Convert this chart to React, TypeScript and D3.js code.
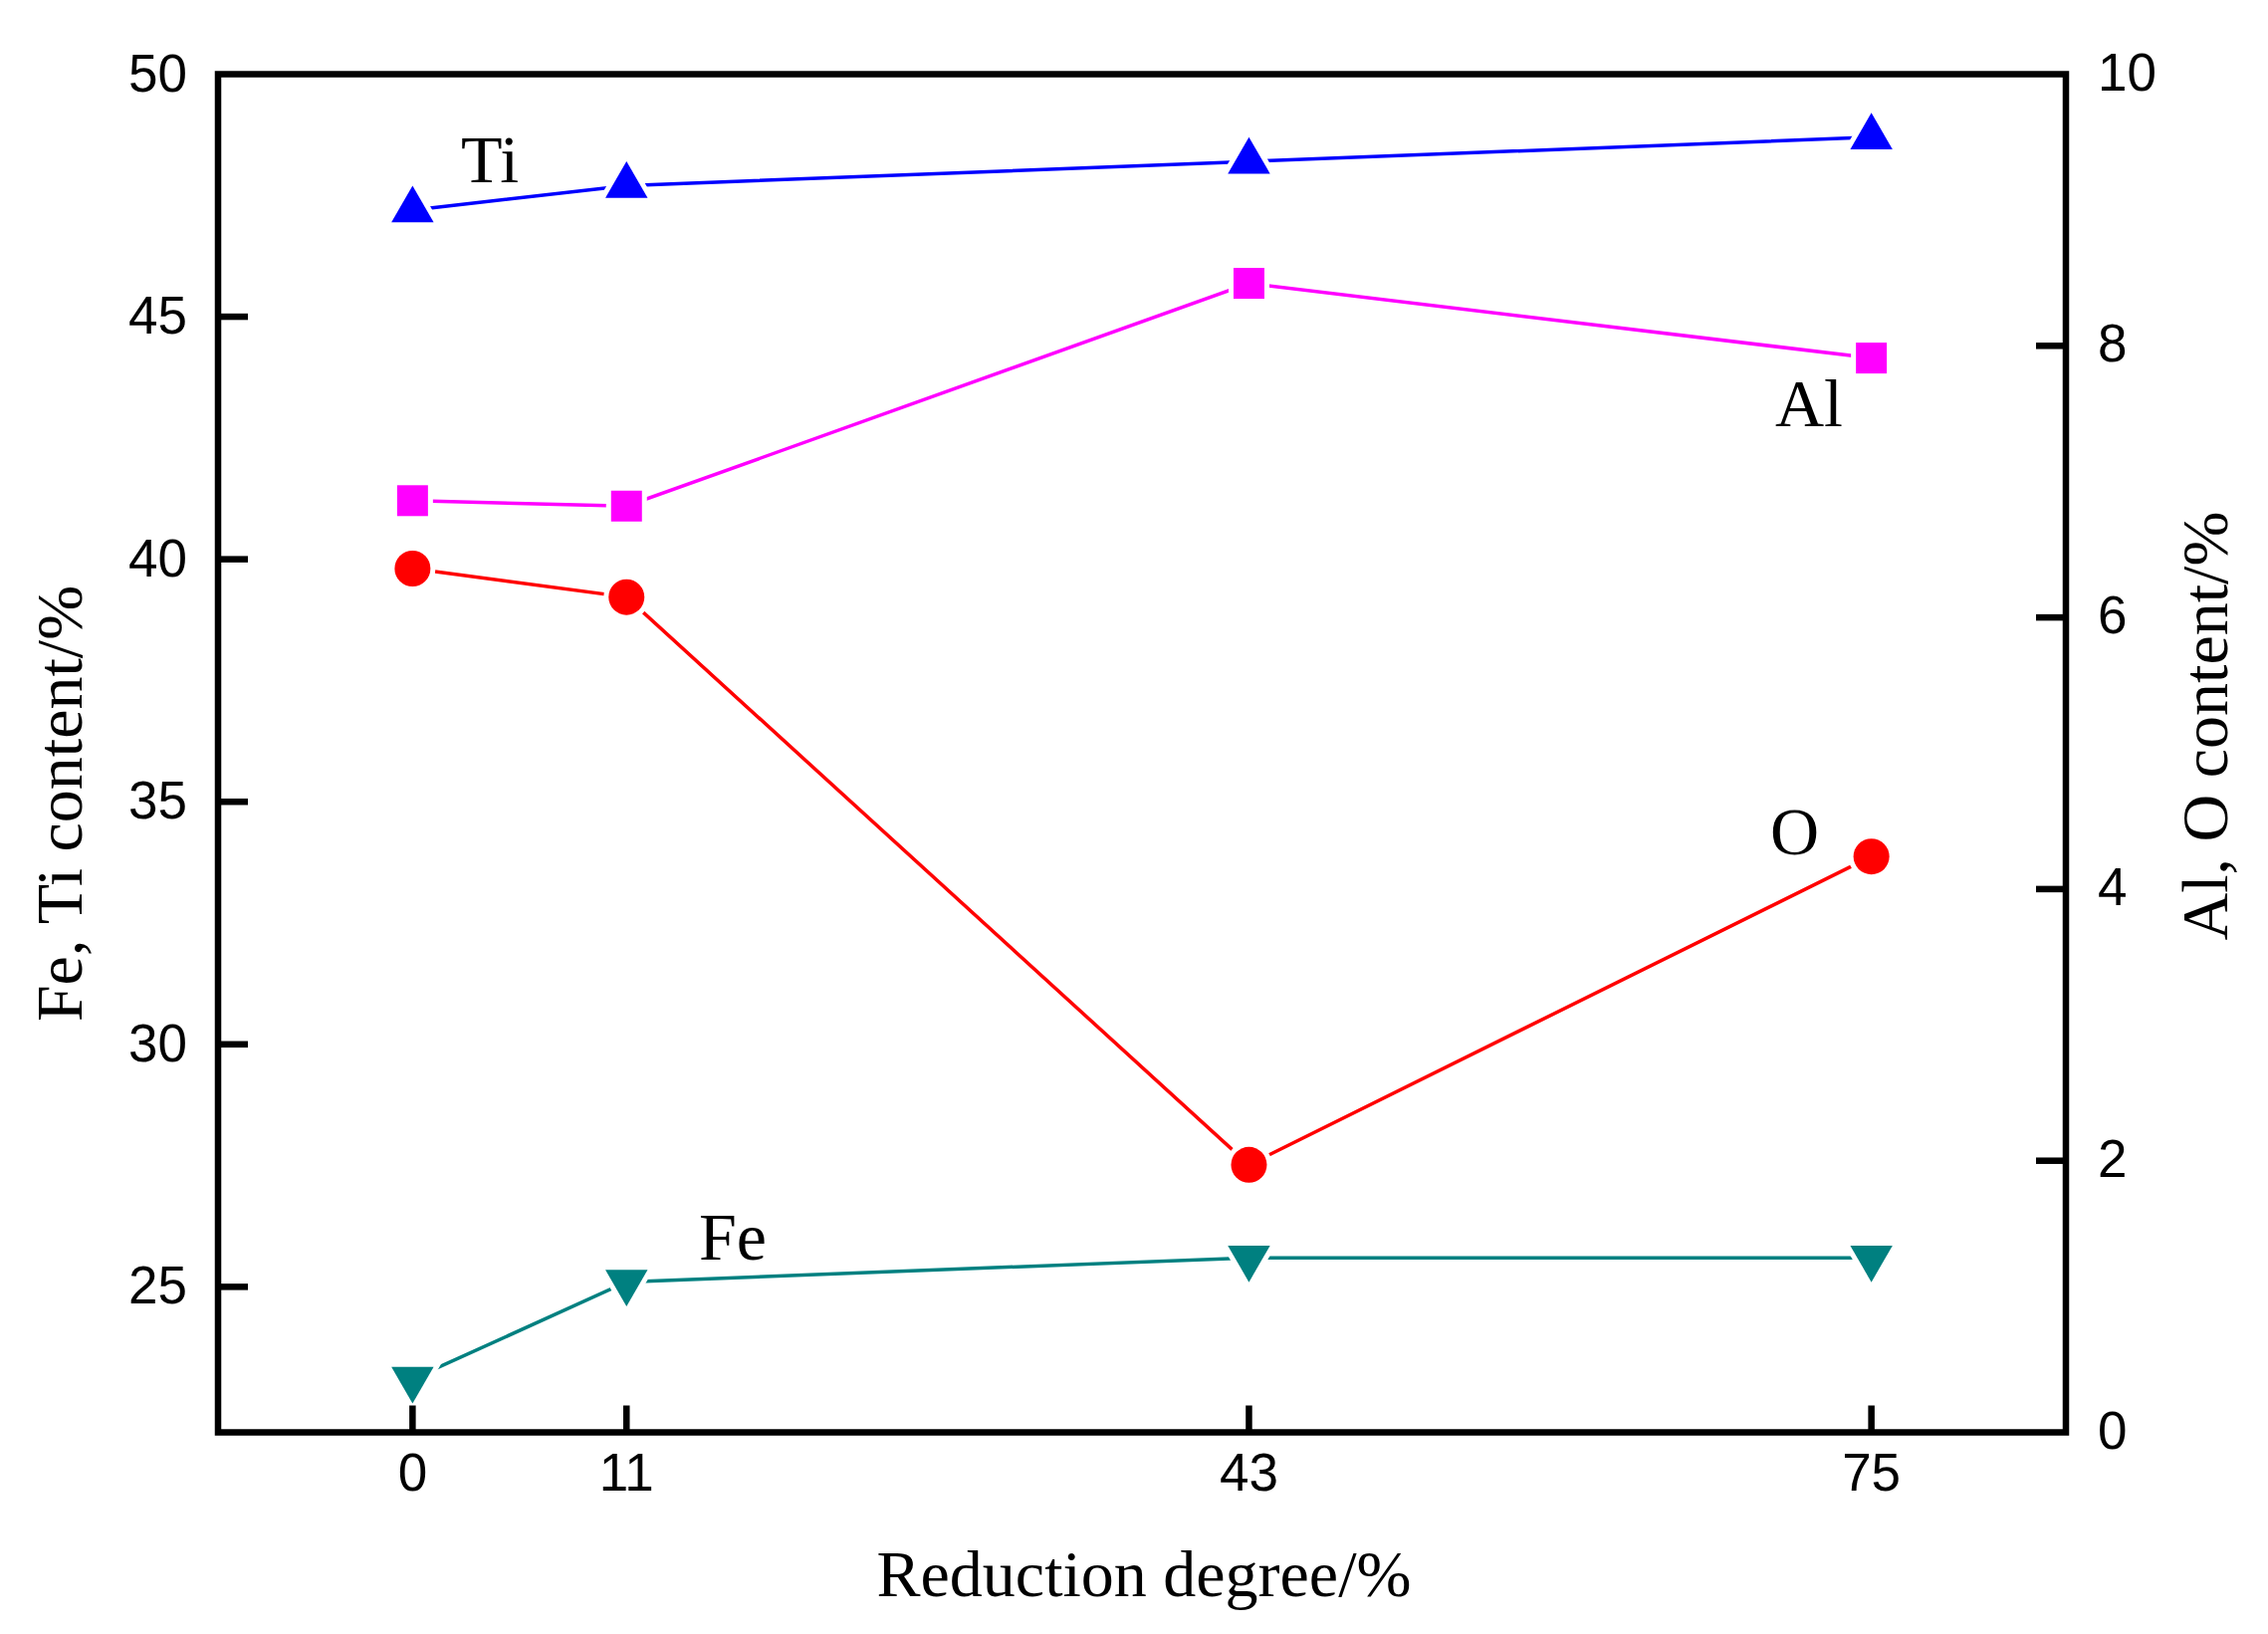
import React from "react";
import * as d3 from "d3";

const reduction = [0, 11, 43, 75];
const tiValues = [47.2, 47.7, 48.2, 48.7];
const feValues = [23.1, 25.1, 25.6, 25.6];
const alValues = [6.86, 6.82, 8.46, 7.91];
const oValues = [6.36, 6.15, 1.97, 4.24];

const xTicks = [0, 11, 43, 75];
const leftTicks = [25, 30, 35, 40, 45, 50];
const rightTicks = [0, 2, 4, 6, 8, 10];

const W = 2278;
const H = 1641;
const L = 219, R = 2075, T = 74.5, B = 1438.5;

export default function App() {
  const x = d3.scaleLinear().domain([-10, 85]).range([L, R]);
  const yL = d3.scaleLinear().domain([22, 50]).range([B, T]);
  const yR = d3.scaleLinear().domain([0, 10]).range([B, T]);

  const series = [
    { name: "Ti", vals: tiValues, y: yL, color: "#0000FF", sym: d3.symbolTriangle, size: 780, rot: 0 },
    { name: "Al", vals: alValues, y: yR, color: "#FF00FF", sym: d3.symbolSquare, size: 31 * 31, rot: 0 },
    { name: "O", vals: oValues, y: yR, color: "#FF0000", sym: d3.symbolCircle, size: Math.PI * 18 * 18, rot: 0 },
    { name: "Fe", vals: feValues, y: yL, color: "#008080", sym: d3.symbolTriangle, size: 780, rot: 180 },
  ];

  const labels = [
    { text: "Ti", x: 463, y: 183 },
    { text: "Al", x: 1783, y: 428 },
    { text: "O", x: 1778, y: 858 },
    { text: "Fe", x: 702, y: 1265 },
  ];

  const sans = "'Liberation Sans', Arial, sans-serif";
  const serif = "'Liberation Serif', 'Times New Roman', serif";
  const axisW = 6.5;

  return (
    <div style={{ position: "absolute", left: 0, top: 0 }}>
      <svg width={W} height={H} viewBox={`0 0 ${W} ${H}`} style={{ display: "block", background: "#fff" }}>
        <rect x={0} y={0} width={W} height={H} fill="#fff" />
        {series.map((s) => {
          const line = d3
            .line<number>()
            .x((_, i) => x(reduction[i]))
            .y((d) => s.y(d));
          return (
            <g key={s.name}>
              <path d={line(s.vals) || ""} fill="none" stroke={s.color} strokeWidth={3.5} />
              {s.vals.map((v, i) => (
                <path
                  key={i}
                  d={d3.symbol().type(s.sym).size(s.size)() || ""}
                  transform={`translate(${x(reduction[i])},${s.y(v)}) rotate(${s.rot})`}
                  fill={s.color}
                  stroke="#fff"
                  strokeWidth={10}
                  style={{ paintOrder: "stroke" }}
                />
              ))}
            </g>
          );
        })}
        {/* frame */}
        <rect x={L} y={T} width={R - L} height={B - T} fill="none" stroke="#000" strokeWidth={axisW} strokeLinejoin="miter" />
        {/* left ticks */}
        {leftTicks.map((t) => (
          <g key={"l" + t}>
            {t !== 50 && <line x1={L} x2={L + 30} y1={yL(t)} y2={yL(t)} stroke="#000" strokeWidth={axisW} />}
            <text x={188} y={yL(t) + 17} textAnchor="end" fontFamily={sans} fontSize={53} fill="#000">
              {t}
            </text>
          </g>
        ))}
        {/* right ticks */}
        {rightTicks.map((t) => (
          <g key={"r" + t}>
            {t !== 10 && t !== 0 && <line x1={R - 30} x2={R} y1={yR(t)} y2={yR(t)} stroke="#000" strokeWidth={axisW} />}
            <text x={2107} y={yR(t) + 16} textAnchor="start" fontFamily={sans} fontSize={53} fill="#000">
              {t}
            </text>
          </g>
        ))}
        {/* bottom ticks */}
        {xTicks.map((t) => (
          <g key={"b" + t}>
            <line x1={x(t)} x2={x(t)} y1={B} y2={B - 27} stroke="#000" strokeWidth={axisW} />
            <text x={x(t)} y={1497} textAnchor="middle" fontFamily={sans} fontSize={53} fill="#000">
              {t}
            </text>
          </g>
        ))}
        {/* series labels */}
        {labels.map((l) => (
          <text key={l.text} x={l.x} y={l.y} fontFamily={serif} fontSize={68} fill="#000">
            {l.text}
          </text>
        ))}
        {/* axis titles */}
        <text x={1149} y={1603} textAnchor="middle" fontFamily={serif} fontSize={66} fill="#000">
          Reduction degree/%
        </text>
        <text transform="translate(82,807) rotate(-90)" textAnchor="middle" fontFamily={serif} fontSize={66} fill="#000">
          Fe, Ti content/%
        </text>
        <text transform="translate(2237,729) rotate(-90)" textAnchor="middle" fontFamily={serif} fontSize={66} fill="#000">
          Al, O content/%
        </text>
      </svg>
    </div>
  );
}
